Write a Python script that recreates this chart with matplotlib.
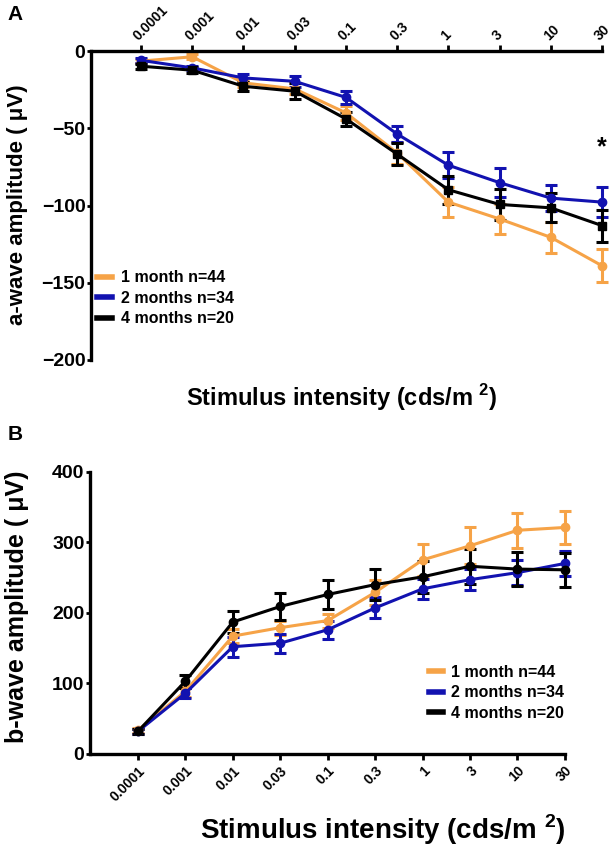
import numpy as np
import matplotlib
matplotlib.use("Agg")
import matplotlib.pyplot as plt
from matplotlib.lines import Line2D

plt.rcParams['font.family'] = ['Liberation Sans', 'DejaVu Sans']
plt.rcParams['font.weight'] = 'bold'
plt.rcParams['mathtext.fontset'] = 'custom'
plt.rcParams['mathtext.rm'] = 'Liberation Sans:bold'
plt.rcParams['mathtext.bf'] = 'Liberation Sans:bold'

# Stimulus intensities (categorical x positions)
intensity = ['0.0001', '0.001', '0.01', '0.03', '0.1', '0.3', '1', '3', '10', '30']
groups = ['1 month n=44', '2 months n=34', '4 months n=20']
colors = ['#F6A347', '#1212B0', '#000000']

# a-wave amplitude (uV), mean and SEM
a_1m = [-6.5, -3.7, -20.6, -24.5, -40, -66, -97.8, -108.7, -120.6, -139]
a_1m_err = [1.5, 1.5, 2.5, 3.5, 4.5, 7, 9.5, 9.8, 10, 10.6]
a_2m = [-6, -10.9, -17.4, -19.6, -30, -53.7, -73.9, -85.2, -95.2, -97.8]
a_2m_err = [1.5, 1.5, 2.5, 3.5, 4.3, 5, 8.4, 9.2, 8.6, 9.8]
a_4m = [-9.8, -12.4, -22.8, -26, -43.9, -66.7, -89.8, -99.3, -101.5, -113]
a_4m_err = [1.5, 1.8, 3, 5, 4.7, 7.3, 9.2, 10.3, 9.3, 10.3]

# b-wave amplitude (uV), mean and SEM
b_1m = [33.5, 88.7, 167, 179, 189, 229, 275, 295, 317, 321]
b_1m_err = [4, 8, 10, 10, 10, 18, 23, 26, 24.5, 24]
b_2m = [32, 86, 152, 157, 176, 207, 234, 247, 257, 270]
b_2m_err = [3, 7, 14, 13.5, 13, 15, 14, 15, 18, 18]
b_4m = [32, 103, 187, 209, 226, 240, 251, 266, 262, 261]
b_4m_err = [3, 9, 16, 19, 21, 22, 23, 25, 24, 24]

x = np.arange(1, len(intensity) + 1)

fig = plt.figure(figsize=(6.12, 8.51), dpi=100)

# legend handles: plain thick line stubs
handles = [Line2D([], [], color=c, lw=4) for c in colors]

# ---- Panel A ----
axA = fig.add_axes([0.1487, 0.577, 0.835, 0.363])
a_data = [(a_1m, a_1m_err, 'o'), (a_2m, a_2m_err, 'o'), (a_4m, a_4m_err, 's')]
for (vals, errs, mk), c in zip(a_data, colors):
    axA.errorbar(x, vals, yerr=errs, color=c, marker=mk, markersize=6, lw=2.2,
                 elinewidth=2.2, capsize=4.5, capthick=2.2, clip_on=False)
axA.set_xlim(0.023, 10)
axA.set_ylim(-200, 0)
axA.set_yticks([0, -50, -100, -150, -200])
axA.xaxis.tick_top()
axA.set_xticks(x)
axA.set_xticklabels(intensity, rotation=45, ha='left', va='bottom',
                    rotation_mode='anchor', fontsize=10)
axA.tick_params(axis='y', labelsize=14, width=2, length=3, pad=1)
axA.tick_params(axis='x', width=2, length=4, pad=2)
for s in ['bottom', 'right']:
    axA.spines[s].set_visible(False)
for s in ['top', 'left']:
    axA.spines[s].set_linewidth(2.4)
axA.text(10, -62, '*', fontsize=18, ha='center', va='center')
axA.legend(handles, groups, loc='lower left', bbox_to_anchor=(0.0, 0.088), frameon=False,
           fontsize=11.5, handlelength=0.9, handletextpad=0.6, labelspacing=0.35,
           borderaxespad=0)

fig.text(0.028, 1 - 205 / 851, 'a-wave amplitude ( μV)', rotation=90,
         ha='center', va='center', fontsize=16)
fig.text(342 / 612, 1 - 398 / 851, r'Stimulus intensity (cds/m $^{2}$)',
         ha='center', va='center', fontsize=17)
fig.text(0.012, 1 - 15 / 851, 'A', fontsize=15, ha='left', va='center')

# ---- Panel B ----
axB = fig.add_axes([0.147, 0.114, 0.776, 0.3317])
b_data = [(b_1m, b_1m_err), (b_2m, b_2m_err), (b_4m, b_4m_err)]
for (vals, errs), c in zip(b_data, colors):
    axB.errorbar(x, vals, yerr=errs, color=c, marker='o', markersize=6, lw=2.2,
                 elinewidth=2.2, capsize=4.5, capthick=2.2, clip_on=False)
axB.set_xlim(-0.01, 10)
axB.set_ylim(0, 400)
axB.set_yticks([0, 100, 200, 300, 400])
axB.set_xticks(x)
axB.set_xticklabels(intensity, rotation=45, ha='right', va='top',
                    rotation_mode='anchor', fontsize=10)
axB.tick_params(axis='y', labelsize=14, width=2, length=3, pad=1)
axB.tick_params(axis='x', width=2, length=4, pad=3)
for s in ['top', 'right']:
    axB.spines[s].set_visible(False)
for s in ['bottom', 'left']:
    axB.spines[s].set_linewidth(2.4)
axB.legend(handles, groups, loc='lower left', bbox_to_anchor=(0.7, 0.095), frameon=False,
           fontsize=11.5, handlelength=0.9, handletextpad=0.5, labelspacing=0.35,
           borderaxespad=0)

fig.text(0.028, 1 - 607 / 851, 'b-wave amplitude ( μV)', rotation=90,
         ha='center', va='center', fontsize=18)
fig.text(383 / 612, 1 - 830 / 851, r'Stimulus intensity (cds/m $^{2}$)',
         ha='center', va='center', fontsize=20)
fig.text(0.012, 1 - 434 / 851, 'B', fontsize=15, ha='left', va='center')

fig.savefig('out.png', dpi=100)
